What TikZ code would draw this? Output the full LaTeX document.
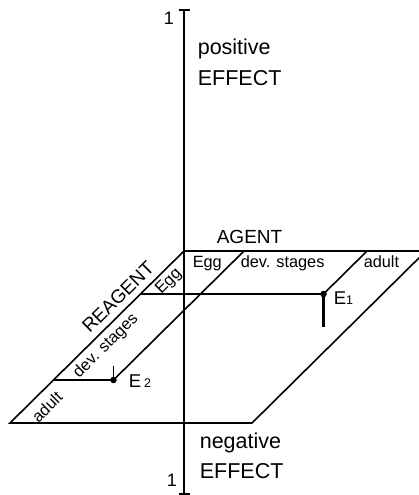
\documentclass[tikz,border=0pt]{standalone}
\usepackage{fontspec}
\setmainfont{Liberation Sans}
\usetikzlibrary{calc}
\begin{document}
\begin{tikzpicture}[x=1pt,y=-1pt,line width=1.6pt]
\tikzset{
  bigtxt/.style={font=\fontsize{21.5}{21.5}\selectfont, inner sep=0pt},
  midtxt/.style={font=\fontsize{19}{19}\selectfont, inner sep=0pt},
  smalltxt/.style={font=\fontsize{16.3}{16.3}\selectfont, inner sep=0pt},
  onetxt/.style={font=\fontsize{18}{18}\selectfont, inner sep=0pt},
  dotnode/.style={circle, fill=black, inner sep=0pt, minimum size=6.5pt},
  stem/.style={line width=2.5pt},
}
\useasboundingbox (0,0) rectangle (418,495);
% axis
\coordinate (top) at (184,10);
\coordinate (bot) at (184,494);
\coordinate (topL) at (179,10);
\coordinate (topR) at (190,10);
\coordinate (botL) at (179,494);
\coordinate (botR) at (190,494);
\draw (top) -- (bot);
\draw (topL) -- (topR);
\draw (botL) -- (botR);
% plane
\coordinate (O) at (184,251);
\coordinate (TR) at (426,251);
\coordinate (BR) at (252,423);
\coordinate (BL) at (10,423);
\coordinate (a1) at (244,251);
\coordinate (a2) at (367,251);
\coordinate (r1) at (140.5,294);
\coordinate (r2) at (53.5,380);
\draw (O) -- (TR) -- (BR) -- (BL) -- cycle;
\node[dotnode] (E1) at (323.5,294) {};
\node[dotnode] (E2) at (113.5,380) {};
\coordinate (E1s) at (323.5,327);
\coordinate (E2s) at (113.5,366);
\draw (a1) -- (E2.center);
\draw (a2) -- (E1.center);
\draw (r1) -- (E1.center);
\draw (r2) -- (E2.center);
\draw[stem] (E1.center) -- (E1s);
\draw (E2.center) -- (E2s);
% labels
\node[onetxt, anchor=center] (one1) at (169,18) {1};
\node[onetxt, anchor=center] (one2) at (172,480) {1};
\node[bigtxt, anchor=base west] (pos) at (197,55) {positive};
\node[bigtxt, anchor=base west] (eff1) at (197,85) {EFFECT};
\node[bigtxt, anchor=base west] (neg) at (199,448) {negative};
\node[bigtxt, anchor=base west] (eff2) at (199,478) {EFFECT};
\node[midtxt, anchor=base west] (agent) at (216,243) {AGENT};
\node[midtxt, anchor=center, rotate=44.67] (reagent) at (118,297) {REAGENT};
\node[smalltxt, anchor=base west] (ag1) at (192,267) {Egg};
\node[smalltxt, anchor=base west] (ag2) at (240,267) {dev. stages};
\node[smalltxt, anchor=base west] (ag3) at (363,267) {adult};
\node[smalltxt, anchor=center, rotate=44.67] (re1) at (169,282) {Egg};
\node[smalltxt, anchor=center, rotate=44.67] (re2) at (106,346) {dev. stages};
\node[smalltxt, anchor=center, rotate=44.67] (re3) at (47,407) {adult};
\node[anchor=base west, inner sep=0pt] (lE1) at (333,304) {\fontsize{18.5}{18.5}\selectfont E\fontsize{12.5}{12.5}\selectfont 1};
\node[anchor=base west, inner sep=0pt] (lE2) at (128,387) {\fontsize{18.5}{18.5}\selectfont E\,\fontsize{12.5}{12.5}\selectfont 2};
\end{tikzpicture}
\end{document}
